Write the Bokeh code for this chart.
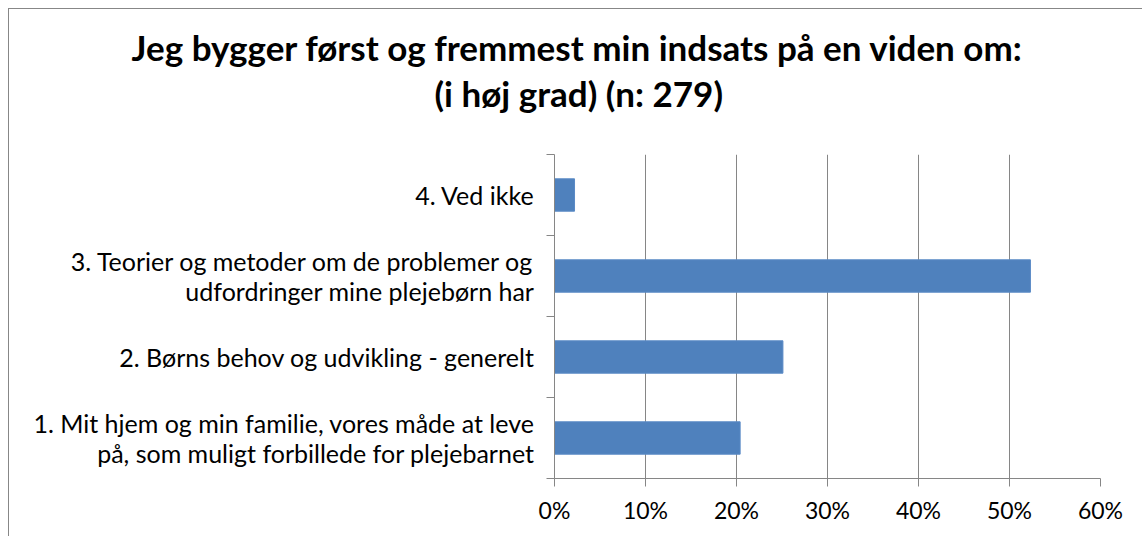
from bokeh.plotting import figure
from bokeh.models import Range1d, FixedTicker, NumeralTickFormatter, LinearAxis, Title
from bokeh.embed import file_html
from bokeh.resources import INLINE

title_line1 = "Jeg bygger først og fremmest min indsats på en viden om:"
title_line2 = "(i høj grad) (n: 279)"
categories = [
    "1. Mit hjem og min familie, vores måde at leve\npå, som muligt forbillede for plejebarnet",
    "2. Børns behov og udvikling - generelt",
    "3. Teorier og metoder om de problemer og\nudfordringer mine plejebørn har",
    "4. Ved ikke",
]
values = [0.204, 0.251, 0.523, 0.022]
x_ticks = [0.0, 0.1, 0.2, 0.3, 0.4, 0.5, 0.6]

n = len(categories)
centers = [i + 0.5 for i in range(n)]
boundaries = list(range(n + 1))

FONT = "Lato"
GRID = "#868686"

p = figure(width=1134, height=528,
           x_range=Range1d(0, 0.6), y_range=Range1d(0, n),
           output_backend="svg", toolbar_location=None,
           min_border_left=545, min_border_right=43,
           min_border_top=145, min_border_bottom=59)
p.outline_line_color = None
p.background_fill_color = "white"
p.border_fill_color = "white"
p.styles = {"margin-left": "8px", "margin-top": "8px",
            "border-top": "1px solid #878787", "border-left": "1px solid #878787"}

p.hbar(y=centers, right=values, left=0, height=0.4,
       fill_color="#4F81BD", line_color="#5A8AC6", line_width=1)

# x axis
xa = p.xaxis[0]
xa.ticker = FixedTicker(ticks=x_ticks)
xa.formatter = NumeralTickFormatter(format="0%")
xa.axis_line_color = GRID
xa.major_tick_line_color = GRID
xa.major_tick_out = 8
xa.major_tick_in = 0
xa.minor_tick_line_color = None
xa.major_label_text_font = FONT
xa.major_label_text_font_size = "23px"
xa.major_label_text_color = "black"
xa.major_label_standoff = 9

# inner y axis: ticks at category boundaries
ya = p.yaxis[0]
ya.ticker = FixedTicker(ticks=boundaries)
ya.major_label_text_font_size = "0px"
ya.major_label_text_color = None
ya.axis_line_color = GRID
ya.major_tick_line_color = GRID
ya.major_tick_out = 8
ya.major_tick_in = 0
ya.minor_tick_line_color = None
ya.major_label_standoff = 0

# outer y axis: category labels
ca = LinearAxis(ticker=FixedTicker(ticks=centers),
                major_label_overrides={c: lab for c, lab in zip(centers, categories)})
ca.axis_line_color = None
ca.major_tick_line_color = None
ca.minor_tick_line_color = None
ca.major_label_text_font = FONT
ca.major_label_text_font_size = "25px"
ca.major_label_text_line_height = 0.97
ca.major_label_text_color = "black"
ca.major_label_standoff = 6
p.add_layout(ca, "left")

p.xgrid.ticker = FixedTicker(ticks=x_ticks)
p.xgrid.grid_line_color = GRID
p.ygrid.grid_line_color = None

# titles: line 1 outermost, line 2 next, spacer closest to frame
p.title.text = title_line1
p.title.align = "left"
p.title.offset = -423
p.title.text_font = FONT
p.title.text_font_style = "bold"
p.title.text_font_size = "35px"
p.title.text_color = "black"
p.title.standoff = 0

spacer = Title(text=" ", text_font_size="1px", standoff=36, align="left")
p.add_layout(spacer, "above")
t2 = Title(text=title_line2, align="left", offset=-120, text_font=FONT,
           text_font_style="bold", text_font_size="35px", text_color="black", standoff=4)
p.add_layout(t2, "above")

open("out.html", "w").write(file_html(p, INLINE))
